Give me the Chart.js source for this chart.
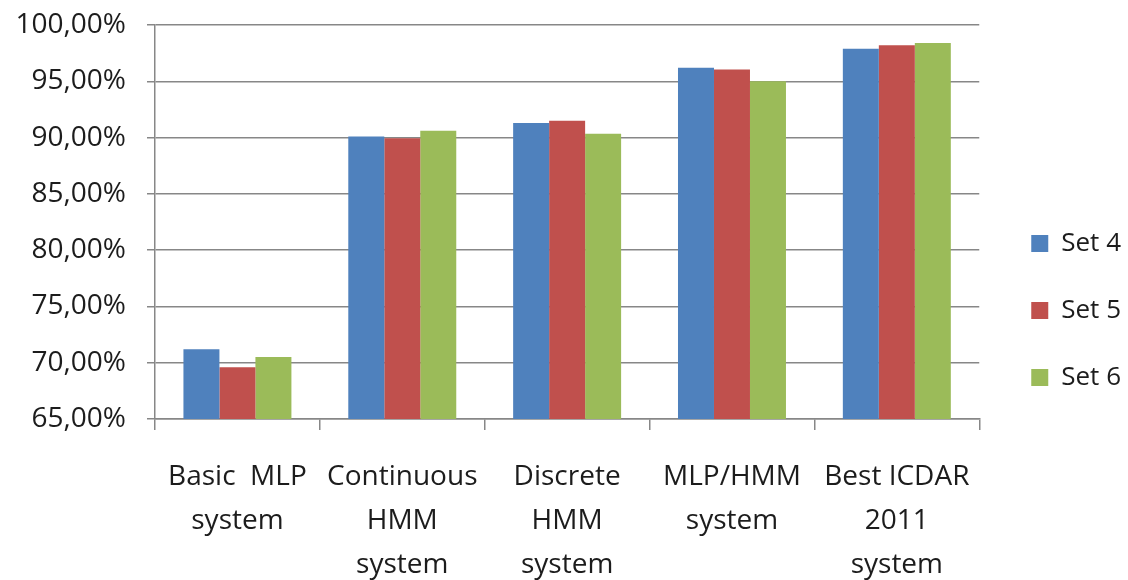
<!DOCTYPE html>
<html>
<head>
<meta charset="utf-8">
<script src="https://cdn.jsdelivr.net/npm/chart.js@4/dist/chart.umd.min.js"></script>
<style>
  body { margin: 0; background: #fff; }
  #wrap { width: 1128px; height: 580px; }
</style>
</head>
<body>
<div id="wrap"><canvas id="chart" width="1128" height="580"></canvas></div>
<script>
const categories = [
  ['Basic  MLP', 'system'],
  ['Continuous', 'HMM', 'system'],
  ['Discrete', 'HMM', 'system'],
  ['MLP/HMM', 'system'],
  ['Best ICDAR', '2011', 'system']
];
const seriesNames = ['Set 4', 'Set 5', 'Set 6'];
const set4 = [71.2, 90.1, 91.3, 96.2, 97.9];
const set5 = [69.6, 89.95, 91.5, 96.05, 98.2];
const set6 = [70.5, 90.6, 90.35, 95.0, 98.4];
const yMin = 65;
const yMax = 100;
const yStep = 5;

const colors = ['#4f81bd', '#c0504d', '#9bbb59'];
const gridColor = '#878787';
const textColor = '#1c1c1c';

// nudge the legend right/down a little, like the original
const legendNudge = {
  id: 'legendNudge',
  afterLayout(chart) {
    const lg = chart.legend;
    lg.left += 11; lg.right += 11;
    lg.top += 8; lg.bottom += 8;
  }
};

const ctx = document.getElementById('chart').getContext('2d');
const chart = new Chart(ctx, {
  type: 'bar',
  data: {
    labels: categories,
    datasets: [set4, set5, set6].map((d, i) => ({
      label: seriesNames[i],
      data: d,
      backgroundColor: colors[i],
      borderWidth: 0,
      categoryPercentage: 0.655,
      barPercentage: 1
    }))
  },
  options: {
    responsive: false,
    animation: false,
    layout: { padding: { top: 25, right: 8, bottom: 0, left: 0 } },
    scales: {
      x: {
        grid: {
          offset: true,
          drawOnChartArea: false,
          color: gridColor,
          lineWidth: 1.5,
          tickLength: 11
        },
        border: { color: gridColor, width: 1.5 },
        ticks: {
          color: textColor,
          padding: 25,
          maxRotation: 0,
          autoSkip: false,
          font: { family: 'Open Sans', size: 28, lineHeight: 1.57 }
        },
        afterFit(scale) { scale.height = 161; }
      },
      y: {
        min: yMin,
        max: yMax,
        grid: {
          color: gridColor,
          lineWidth: 1.5,
          tickLength: 8
        },
        border: { color: gridColor, width: 1.5 },
        ticks: {
          stepSize: yStep,
          color: textColor,
          padding: 21,
          font: { family: 'Open Sans', size: 28 },
          callback: v => v.toFixed(2).replace('.', ',') + '%'
        },
        afterFit(scale) {
          scale.width = 155;
          scale.paddingTop = 0;
        }
      }
    },
    plugins: {
      legend: {
        position: 'right',
        labels: {
          boxWidth: 17,
          boxHeight: 17,
          padding: 41,
          color: textColor,
          font: { family: 'Open Sans', size: 26 }
        }
      },
      tooltip: { enabled: false }
    }
  },
  plugins: [legendNudge]
});
</script>
</body>
</html>
